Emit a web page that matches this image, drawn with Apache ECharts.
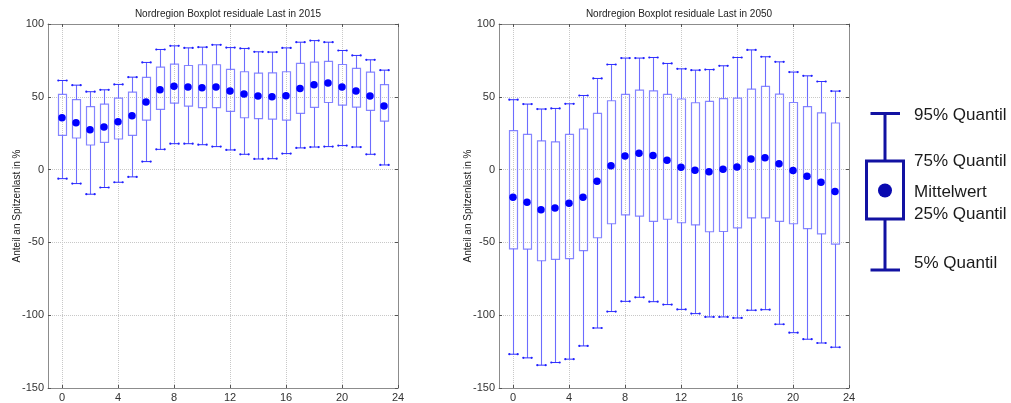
<!DOCTYPE html>
<html><head><meta charset="utf-8">
<script src="https://cdn.jsdelivr.net/npm/echarts@6/dist/echarts.min.js"></script>
<style>html,body{margin:0;padding:0;background:#fff}#c{width:1011px;height:403px}</style>
</head><body><div id="c"></div>
<script>
const hours = [0,1,2,3,4,5,6,7,8,9,10,11,12,13,14,15,16,17,18,19,20,21,22,23];
const xTicks = [0,4,8,12,16,20,24];
const yTicks = [-150,-100,-50,0,50,100];

// 2015
const q95_2015 = [61.2,58.0,53.5,54.8,58.5,63.5,73.6,82.5,85.0,83.6,84.1,85.7,83.8,83.2,80.9,80.7,83.6,87.5,88.6,87.5,81.8,78.4,75.4,68.3];
const q75_2015 = [51.6,48.0,43.2,45.0,49.1,53.2,63.3,70.4,72.4,71.5,72.0,72.0,68.8,67.2,66.3,66.5,67.2,72.9,73.8,74.3,72.2,69.5,66.9,58.3];
const mean_2015 = [35.6,32.2,27.4,29.2,32.9,37.0,46.4,54.8,57.3,56.7,56.2,56.7,53.9,51.9,50.5,50.0,50.7,55.7,58.3,59.4,56.7,53.9,50.5,43.6];
const q25_2015 = [23.5,21.7,16.9,18.7,21.0,23.5,34.0,41.4,45.7,43.6,42.5,42.5,40.0,35.6,35.0,34.7,34.0,38.6,42.7,46.1,44.3,42.9,40.7,33.3];
const q05_2015 = [-6.2,-9.6,-16.9,-12.3,-8.7,-5.0,5.5,13.9,17.8,17.8,17.1,15.8,13.5,10.5,7.3,7.5,11.0,14.9,15.5,15.8,16.5,15.5,10.5,3.2];

// 2050
const q95_2050 = [48.0,45.0,41.6,42.0,45.2,50.9,62.6,72.2,76.6,76.6,77.0,72.9,69.2,68.3,68.7,71.3,77.0,82.2,77.5,74.0,67.0,64.4,60.5,53.9];
const q75_2050 = [26.7,24.2,19.7,19.0,24.2,27.9,38.6,47.3,51.6,54.6,54.1,51.6,48.5,45.9,46.8,48.7,49.1,55.3,57.1,51.9,46.1,43.2,38.9,32.0];
const mean_2050 = [-19.0,-22.4,-27.6,-26.3,-23.1,-19.0,-8.0,2.7,9.4,11.2,9.6,6.4,1.6,-0.5,-1.4,0.2,1.8,7.3,8.2,4.1,-0.7,-4.6,-8.7,-15.1];
const q25_2050 = [-54.4,-54.6,-62.6,-61.7,-61.2,-55.7,-46.8,-37.2,-31.1,-32.0,-35.6,-34.1,-36.5,-37.9,-42.7,-42.5,-40.0,-33.1,-33.1,-35.6,-37.2,-40.6,-44.1,-51.2];
const q05_2050 = [-126.8,-129.3,-134.3,-132.5,-130.2,-121.1,-108.8,-97.5,-90.5,-87.7,-90.7,-92.7,-96.0,-98.9,-101.2,-101.2,-101.9,-96.6,-96.2,-106.2,-112.0,-116.5,-119.1,-122.0];

const titles = ['Nordregion Boxplot residuale Last in 2015','Nordregion Boxplot residuale Last in 2050'];
const yName = 'Anteil an Spitzenlast in %';
const legendLabels = ['95% Quantil','75% Quantil','Mittelwert','25% Quantil','5% Quantil'];

const FONT = 'Liberation Sans, Arial, sans-serif';
const chart = echarts.init(document.getElementById('c'));

function boxRows(lo, q1, q3, hi) {
  return hours.map((h, i) => [h, lo[i], q1[i], q3[i], hi[i]]);
}
function meanRows(m) { return hours.map((h, i) => [h, m[i]]); }

function renderBox(params, api) {
  const x = api.value(0);
  const lo = api.coord([x, api.value(1)]);
  const q1 = api.coord([x, api.value(2)]);
  const q3 = api.coord([x, api.value(3)]);
  const hi = api.coord([x, api.value(4)]);
  const cx = Math.round(lo[0]) + 0.5;
  const hw = api.size([1, 0])[0] * 0.29;
  const cw = api.size([1, 0])[0] * 0.3;
  const boxCol = '#8585ff', whCol = '#6c6cff', capCol = '#3030ff';
  const ch = [
    { type: 'rect', shape: { x: Math.round(cx - hw) + 0.5, y: q3[1], width: Math.round(2 * hw), height: q1[1] - q3[1] },
      style: { stroke: boxCol, fill: 'none', lineWidth: 1.2 } },
    { type: 'line', shape: { x1: cx, y1: hi[1], x2: cx, y2: q3[1] }, style: { stroke: whCol, lineWidth: 1.1 } },
    { type: 'line', shape: { x1: cx, y1: q1[1], x2: cx, y2: lo[1] }, style: { stroke: whCol, lineWidth: 1.1 } }
  ];
  [hi[1], lo[1]].forEach(y => {
    ch.push({ type: 'line', shape: { x1: cx - cw, y1: y, x2: cx + cw, y2: y }, style: { stroke: capCol, lineWidth: 1 } });
    ch.push({ type: 'circle', shape: { cx: cx - cw, cy: y, r: 1.1 }, style: { fill: '#2020ff' } });
    ch.push({ type: 'circle', shape: { cx: cx + cw, cy: y, r: 1.1 }, style: { fill: '#2020ff' } });
  });
  return { type: 'group', children: ch };
}

const grids = [
  { left: 48, top: 24, width: 350, height: 365 },
  { left: 499, top: 24, width: 350, height: 365 }
];

const xAxes = [], yAxes = [], series = [], titleOpts = [];
grids.forEach((g, gi) => {
  titleOpts.push({ text: titles[gi], left: g.left + g.width / 2, top: 4, textAlign: 'center',
    textStyle: { fontFamily: FONT, fontSize: 10, fontWeight: 'normal', color: '#222' } });
  xAxes.push({ type: 'value', gridIndex: gi, min: -1, max: 24, position: 'bottom',
    axisLine: { show: true, onZero: false, lineStyle: { color: '#8c8c8c' } },
    axisTick: { show: true, inside: true, length: 3, customValues: xTicks, lineStyle: { color: '#555' } },
    axisLabel: { customValues: xTicks, fontFamily: FONT, fontSize: 11, color: '#333', margin: 4 },
    splitLine: { show: true, lineStyle: { color: '#c8c8c8', type: 'dotted' } } });
  xAxes.push({ type: 'value', gridIndex: gi, min: -1, max: 24, position: 'top',
    axisLine: { show: true, onZero: false, lineStyle: { color: '#8c8c8c' } },
    axisTick: { show: true, inside: true, length: 3, customValues: xTicks, lineStyle: { color: '#555' } },
    axisLabel: { show: false }, splitLine: { show: false } });
  yAxes.push({ type: 'value', gridIndex: gi, min: -150, max: 100, interval: 50, position: 'left',
    name: yName, nameLocation: 'middle', nameGap: 26, nameRotate: 90, nameMoveOverlap: false,
    nameTextStyle: { fontFamily: FONT, fontSize: 10, color: '#222' },
    axisLine: { show: true, onZero: false, lineStyle: { color: '#8c8c8c' } },
    axisTick: { show: true, inside: true, length: 3, lineStyle: { color: '#555' } },
    axisLabel: { fontFamily: FONT, fontSize: 11, color: '#333', margin: 4 },
    splitLine: { show: true, lineStyle: { color: '#c8c8c8', type: 'dotted' } } });
  yAxes.push({ type: 'value', gridIndex: gi, min: -150, max: 100, interval: 50, position: 'right',
    axisLine: { show: true, onZero: false, lineStyle: { color: '#8c8c8c' } },
    axisTick: { show: true, inside: true, length: 3, lineStyle: { color: '#555' } },
    axisLabel: { show: false }, splitLine: { show: false } });
});

const sets = [
  [q05_2015, q25_2015, q75_2015, q95_2015, mean_2015],
  [q05_2050, q25_2050, q75_2050, q95_2050, mean_2050]
];
sets.forEach((s, gi) => {
  series.push({ type: 'custom', xAxisIndex: gi * 2, yAxisIndex: gi * 2, renderItem: renderBox,
    encode: { x: 0, y: [1, 2, 3, 4] }, data: boxRows(s[0], s[1], s[2], s[3]), silent: true, z: 2 });
  series.push({ type: 'scatter', xAxisIndex: gi * 2, yAxisIndex: gi * 2, data: meanRows(s[4]),
    symbol: 'circle', symbolSize: 7.5, itemStyle: { color: '#0000ff', opacity: 1 }, silent: true, z: 3 });
});

const LC = '#1212a2';
const legendY = [115, 161.5, 192.5, 214, 263];
const graphic = [
  { type: 'line', shape: { x1: 870.5, y1: 113.5, x2: 900, y2: 113.5 }, style: { stroke: LC, lineWidth: 3 } },
  { type: 'line', shape: { x1: 885, y1: 113.5, x2: 885, y2: 161 }, style: { stroke: LC, lineWidth: 3 } },
  { type: 'rect', shape: { x: 866.5, y: 161, width: 37, height: 58 }, style: { stroke: LC, fill: '#fff', lineWidth: 3 } },
  { type: 'circle', shape: { cx: 885, cy: 190.5, r: 7 }, style: { fill: '#0a0ab0' } },
  { type: 'line', shape: { x1: 885, y1: 219, x2: 885, y2: 270 }, style: { stroke: LC, lineWidth: 3 } },
  { type: 'line', shape: { x1: 870.5, y1: 270, x2: 900, y2: 270 }, style: { stroke: LC, lineWidth: 3 } }
];
legendLabels.forEach((t, i) => {
  graphic.push({ type: 'text', x: 914, y: legendY[i],
    style: { text: t, fontFamily: FONT, fontSize: 17, fill: '#1a1a1a', verticalAlign: 'middle', align: 'left' } });
});

chart.setOption({
  animation: false,
  backgroundColor: '#fff',
  title: titleOpts,
  grid: grids,
  xAxis: xAxes,
  yAxis: yAxes,
  series: series,
  graphic: graphic
});
</script></body></html>
